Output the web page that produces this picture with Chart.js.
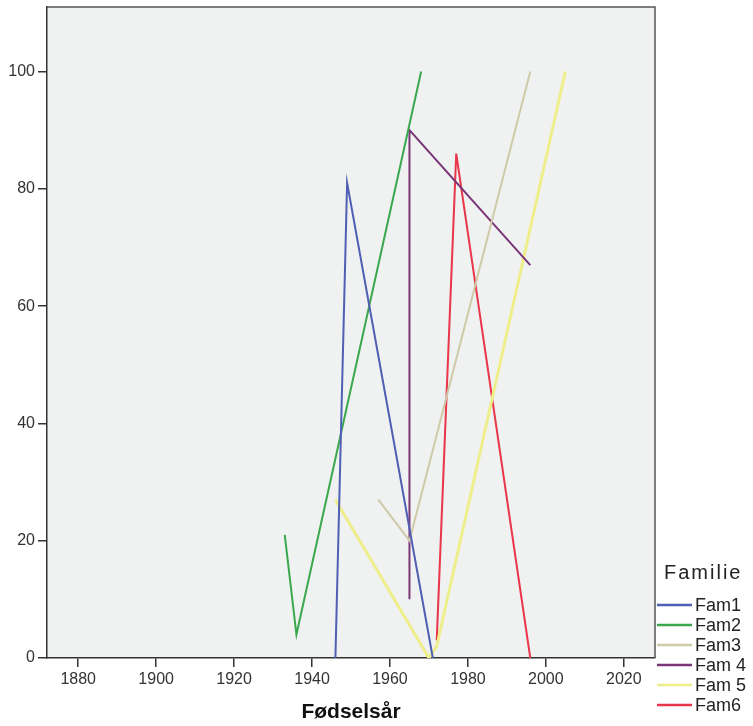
<!DOCTYPE html>
<html>
<head>
<meta charset="utf-8">
<script src="https://cdn.jsdelivr.net/npm/chart.js@4/dist/chart.umd.min.js"></script>
<style>
  html, body { margin: 0; padding: 0; background: #fff; }
  #wrap { width: 753px; height: 726px; }
</style>
</head>
<body>
<div id="wrap"><canvas id="mychart"></canvas></div>
<script>
// data
const familier = ['Fam1', 'Fam2', 'Fam3', 'Fam 4', 'Fam 5', 'Fam6']

const fam1_x = [1946, 1949, 1971]
const fam1_y = [0, 81, 0]
const fam2_x = [1933, 1936, 1968]
const fam2_y = [21, 4, 100]
const fam3_x = [1957, 1965, 1996]
const fam3_y = [27, 20, 100]
const fam4_x = [1965, 1965, 1996]
const fam4_y = [10, 90, 67]
const fam5_x = [1946, 1970, 1972, 2005]
const fam5_y = [27, 0, 2, 100]
const fam6_x = [1972, 1977, 1996]
const fam6_y = [3, 86, 0]

const xTicks = [1880, 1900, 1920, 1940, 1960, 1980, 2000, 2020]
const yTicks = [0, 20, 40, 60, 80, 100]

const colors = ['#4f5fb3', '#3aa94e', '#cfcaa8', '#7a3677', '#eeee8a', '#e8364a']
const widths = [2, 2, 2, 2, 3, 2]

const xs = [fam1_x, fam2_x, fam3_x, fam4_x, fam5_x, fam6_x]
const ys = [fam1_y, fam2_y, fam3_y, fam4_y, fam5_y, fam6_y]

const datasets = familier.map((name, i) => ({
    label: name,
    data: xs[i].map((x, j) => ({ x: x, y: ys[i][j] })),
    borderColor: colors[i],
    backgroundColor: colors[i],
    borderWidth: widths[i],
    showLine: true,
    pointRadius: 0,
    tension: 0
}))

const font = "'Liberation Sans', Arial, sans-serif"

// plot background, top/right frame and the legend
const framePlugin = {
    id: 'frame',
    beforeDraw(chart) {
        const { ctx, chartArea: a } = chart
        ctx.save()
        ctx.fillStyle = '#f0f1f1'
        ctx.fillRect(a.left, a.top, a.right - a.left, a.bottom - a.top)
        ctx.restore()
    },
    afterDraw(chart) {
        const { ctx, chartArea: a } = chart
        ctx.save()
        ctx.strokeStyle = '#555'
        ctx.lineWidth = 1.5
        ctx.beginPath()
        ctx.moveTo(a.left, a.top)
        ctx.lineTo(a.right, a.top)
        ctx.lineTo(a.right, a.bottom)
        ctx.stroke()

        // legend
        ctx.fillStyle = '#222'
        ctx.textBaseline = 'middle'
        ctx.textAlign = 'left'
        ctx.font = '20px ' + font
        ctx.letterSpacing = '2px'
        ctx.fillText('Familie', 664, 573)
        ctx.letterSpacing = '0px'
        ctx.font = '18px ' + font
        chart.data.datasets.forEach((ds, i) => {
            const y = 605 + i * 20
            ctx.strokeStyle = ds.borderColor
            ctx.lineWidth = 2.5
            ctx.beginPath()
            ctx.moveTo(657, y)
            ctx.lineTo(692, y)
            ctx.stroke()
            ctx.fillStyle = '#222'
            ctx.fillText(ds.label, 695, y + 1)
        })
        ctx.restore()
    }
}

const ctx = document.getElementById('mychart')

const myChart = new Chart(ctx, {
    type: 'scatter',
    data: { datasets: datasets },
    options: {
        responsive: true,
        maintainAspectRatio: false,
        animation: false,
        layout: { padding: { top: 7, right: 98, left: 0, bottom: 0 } },
        plugins: {
            legend: { display: false },
            tooltip: { enabled: false }
        },
        scales: {
            x: {
                type: 'linear',
                min: 1872,
                max: 2028,
                afterBuildTicks: (scale) => { scale.ticks = xTicks.map(v => ({ value: v })) },
                afterFit: (scale) => { scale.height = 68; scale.paddingLeft = 0; scale.paddingRight = 0 },
                ticks: {
                    color: '#333',
                    font: { family: font, size: 16 },
                    padding: 3,
                    maxRotation: 0,
                    callback: (v) => String(v)
                },
                grid: { drawOnChartArea: false, drawTicks: true, tickLength: 9, color: '#333', lineWidth: 1.5 },
                border: { display: true, color: '#333', width: 1.5 },
                title: {
                    display: true,
                    text: 'Fødselsår',
                    color: '#111',
                    font: { family: font, size: 21, weight: 'bold' },
                    padding: { top: 0, bottom: 1 }
                }
            },
            y: {
                type: 'linear',
                min: 0,
                max: 111,
                afterBuildTicks: (scale) => { scale.ticks = yTicks.map(v => ({ value: v })) },
                afterFit: (scale) => { scale.width = 47; scale.paddingTop = 0; scale.paddingBottom = 0 },
                ticks: {
                    color: '#333',
                    font: { family: font, size: 16 },
                    padding: 3
                },
                grid: { drawOnChartArea: false, drawTicks: true, tickLength: 9, color: '#333', lineWidth: 1.5 },
                border: { display: true, color: '#333', width: 1.5 }
            }
        }
    },
    plugins: [framePlugin]
})
</script>
</body>
</html>
